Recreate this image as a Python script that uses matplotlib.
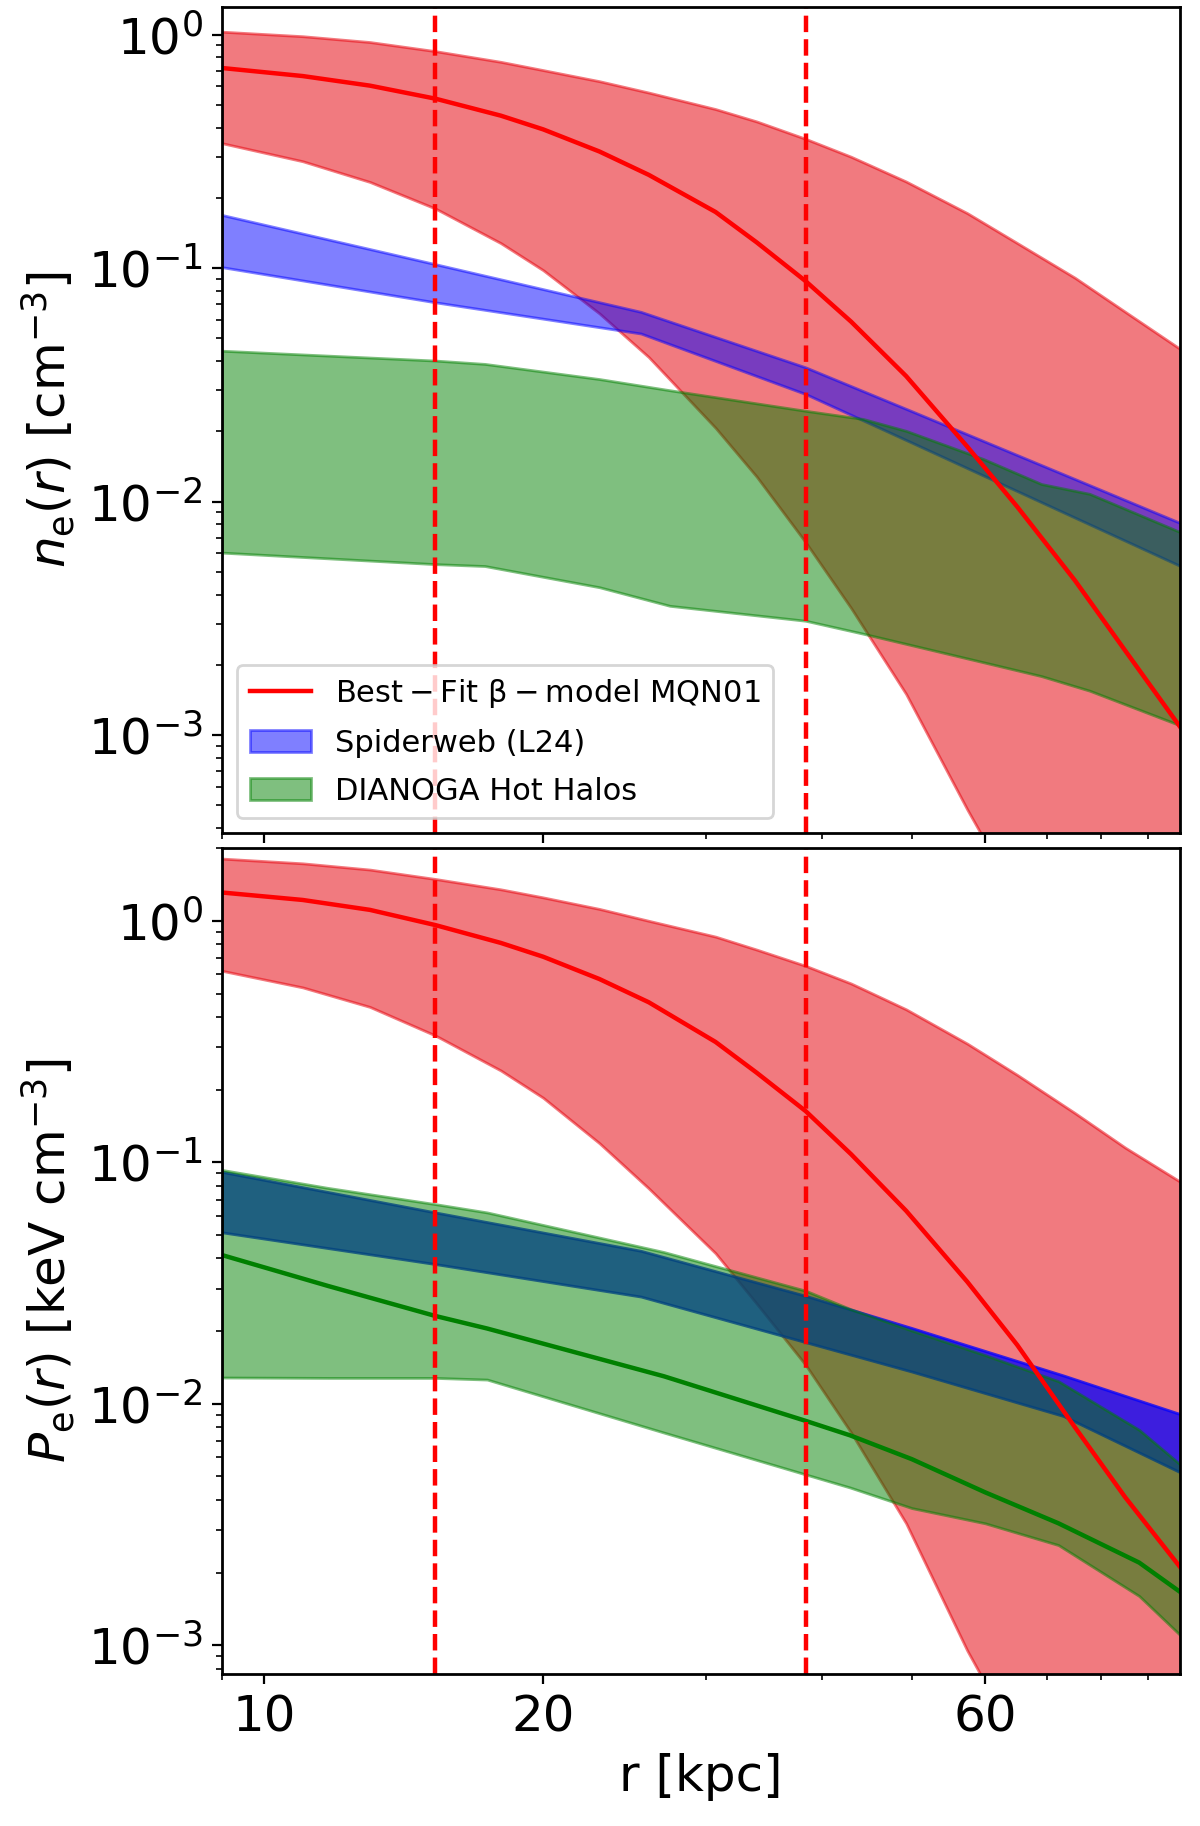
import matplotlib
matplotlib.use("Agg")
import matplotlib.pyplot as plt

# radii [kpc]
r_fit = [9.0, 11, 13, 15.3, 18, 20, 23, 26, 30.7, 34, 38.4, 43, 49.3, 57.4, 65, 75, 85, 97.5]
r_sw = [9.0, 15.3, 25.5, 38.4, 50.0, 72.9, 97.5]
r_dg_ne = [9.0, 15.3, 17.3, 23.0, 27.4, 38.4, 44.3, 49.3, 59.8, 69.0, 77.8, 97.5]
r_dg_pe = [9.0, 11.7, 15.3, 17.4, 27.0, 38.4, 42.9, 50.0, 60.0, 72.0, 88.0, 97.5]

# electron density n_e [cm^-3]
ne_fit = [0.72, 0.665, 0.605, 0.532, 0.45, 0.393, 0.316, 0.251, 0.174, 0.129, 0.088,
          0.059, 0.0345, 0.0172, 9.5e-3, 4.6e-3, 2.3e-3, 1.08e-3]
ne_fit_hi = [1.03, 0.985, 0.93, 0.85, 0.765, 0.705, 0.632, 0.565, 0.48, 0.425, 0.358,
             0.30, 0.235, 0.172, 0.128, 0.091, 0.065, 0.045]
ne_fit_lo = [0.343, 0.287, 0.234, 0.18, 0.128, 0.098, 0.064, 0.0416, 0.0207, 0.0128,
             6.7e-3, 3.5e-3, 1.5e-3, 4.8e-4, 2.0e-4, 7e-5, 2.6e-5, 9e-6]
ne_sw_hi = [0.169, 0.104, 0.065, 0.0376, 0.0244, 0.0131, 8.1e-3]
ne_sw_lo = [0.101, 0.0714, 0.0525, 0.0289, 0.0179, 9.0e-3, 5.3e-3]
ne_dg_hi = [0.0443, 0.0402, 0.0389, 0.0335, 0.030, 0.0245, 0.0226, 0.0201, 0.0152,
            0.0119, 0.0108, 7.4e-3]
ne_dg_lo = [6.05e-3, 5.4e-3, 5.3e-3, 4.3e-3, 3.58e-3, 3.09e-3, 2.72e-3, 2.46e-3,
            2.05e-3, 1.79e-3, 1.55e-3, 1.1e-3]

# electron pressure P_e [keV cm^-3]
pe_fit = [1.31, 1.22, 1.11, 0.96, 0.81, 0.71, 0.574, 0.46, 0.315, 0.235, 0.163, 0.108,
          0.063, 0.032, 0.0175, 8.0e-3, 4.1e-3, 2.1e-3]
pe_fit_hi = [1.81, 1.73, 1.63, 1.49, 1.35, 1.25, 1.12, 1.0, 0.86, 0.76, 0.651, 0.55,
             0.43, 0.31, 0.23, 0.16, 0.115, 0.083]
pe_fit_lo = [0.621, 0.53, 0.44, 0.335, 0.24, 0.185, 0.12, 0.078, 0.042, 0.026, 0.0145,
             7.6e-3, 3.2e-3, 9.5e-4, 4e-4, 1.2e-4, 4e-5, 1.2e-5]
pe_sw_hi = [0.0913, 0.062, 0.043, 0.028, 0.0206, 0.0131, 9.06e-3]
pe_sw_lo = [0.0513, 0.0379, 0.0278, 0.018, 0.0136, 8.9e-3, 5.2e-3]
pe_dg_hi = [0.093, 0.0784, 0.0671, 0.062, 0.0425, 0.0294, 0.0247, 0.0201, 0.0159,
            0.0124, 7.8e-3, 5.6e-3]
pe_dg_med = [0.0413, 0.0308, 0.0231, 0.0205, 0.013, 8.5e-3, 7.4e-3, 5.9e-3, 4.3e-3,
             3.2e-3, 2.2e-3, 1.66e-3]
pe_dg_lo = [0.01285, 0.0128, 0.0128, 0.0126, 7.6e-3, 5.1e-3, 4.5e-3, 3.7e-3, 3.2e-3,
            2.6e-3, 1.6e-3, 1.1e-3]

r_lines = [15.3, 38.4]
fit_label = r'$\mathrm{Best-Fit\ \beta-model\ MQN01}$'

plt.rcParams['font.size'] = 18

fig, (ax1, ax2) = plt.subplots(2, 1, figsize=(6, 9.13), dpi=200, sharex=True)
fig.subplots_adjust(left=0.185, right=0.983, top=0.996, bottom=0.0832, hspace=0.018)

# top: density
ax1.fill_between(r_fit, ne_fit_lo, ne_fit_hi, color='#e6000a', alpha=0.52)
hs = ax1.fill_between(r_sw, ne_sw_lo, ne_sw_hi, color='blue', alpha=0.5, label='Spiderweb (L24)')
hd = ax1.fill_between(r_dg_ne, ne_dg_lo, ne_dg_hi, color='green', alpha=0.5, label='DIANOGA Hot Halos')
hl, = ax1.plot(r_fit, ne_fit, color='red', lw=1.6, label=fit_label)
for rv in r_lines:
    ax1.axvline(rv, color='red', ls='--', lw=1.6)

# bottom: pressure
ax2.fill_between(r_fit, pe_fit_lo, pe_fit_hi, color='#e6000a', alpha=0.52)
ax2.fill_between(r_sw, pe_sw_lo, pe_sw_hi, color='blue', alpha=0.75)
ax2.fill_between(r_dg_pe, pe_dg_lo, pe_dg_hi, color='green', alpha=0.5)
ax2.plot(r_dg_pe, pe_dg_med, color='green', lw=1.6)
ax2.plot(r_fit, pe_fit, color='red', lw=1.6)
for rv in r_lines:
    ax2.axvline(rv, color='red', ls='--', lw=1.6)

for ax in (ax1, ax2):
    ax.set_xscale('log')
    ax.set_yscale('log')
    ax.tick_params(labelsize=18)
    for s in ax.spines.values():
        s.set_linewidth(1.0)

ax1.set_xlim(9.0, 97.3)
ax1.set_ylim(3.8e-4, 1.31)
ax2.set_ylim(7.6e-4, 2.0)
ax2.set_xticks([10, 20, 60])
ax2.set_xticklabels(['10', '20', '60'])

ax1.set_ylabel(r'$n_{\rm e}(r)$ [cm$^{-3}$]', fontsize=18)
ax2.set_ylabel(r'$P_{\rm e}(r)$ [keV cm$^{-3}$]', fontsize=18)
ax2.set_xlabel('r [kpc]', fontsize=18)

ax1.legend(handles=[hl, hs, hd], loc='lower left', fontsize=11, labelspacing=0.62)

fig.savefig('out.png', dpi=200)
